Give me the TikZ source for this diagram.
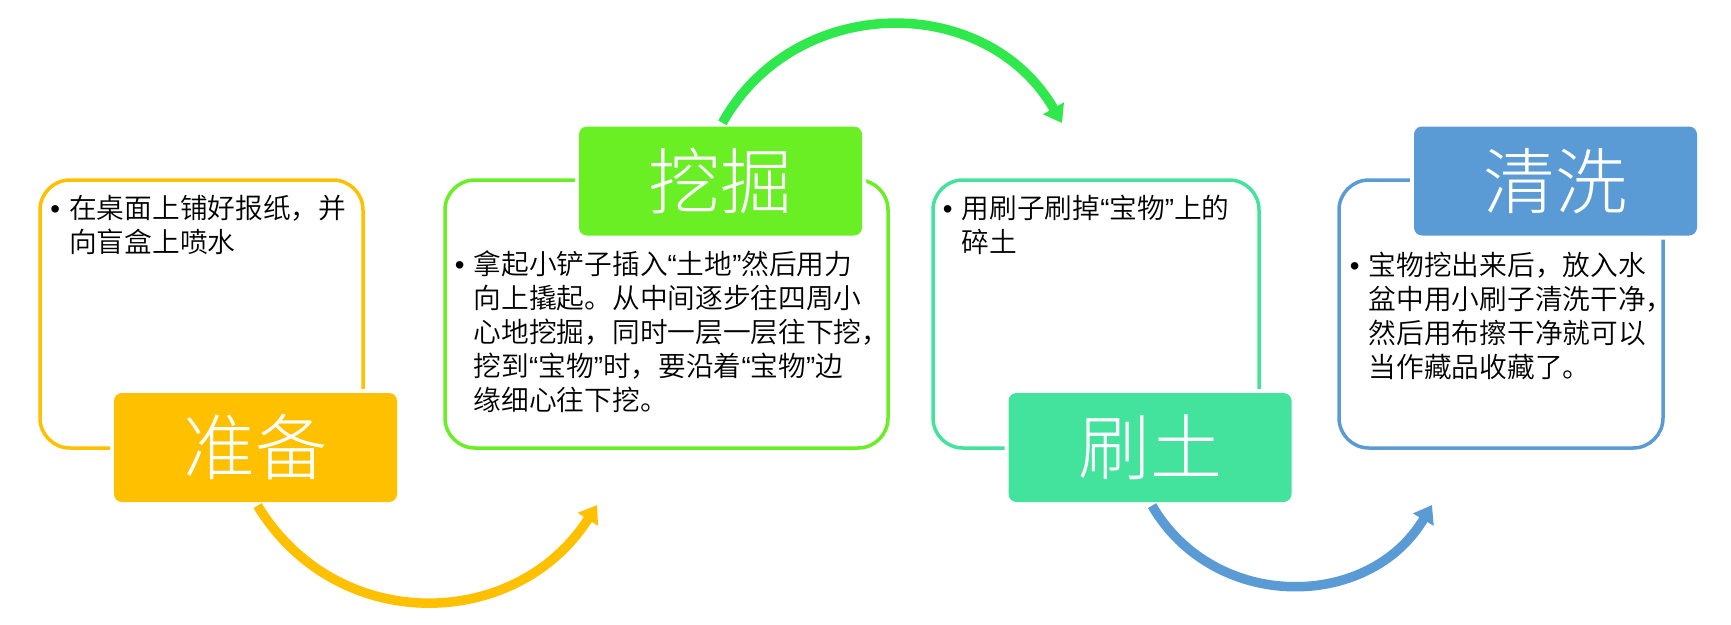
\documentclass[tikz,border=0pt]{standalone}
\usepackage{fontspec}
\setmainfont{Noto Sans CJK SC DemiLight}
\newfontfamily\qfont{Liberation Sans}
\newfontfamily\tfont{Noto Sans CJK SC Light}
\usetikzlibrary{arrows.meta}
\definecolor{cYel}{HTML}{FFC000}
\definecolor{cGrn}{HTML}{6AEE24}
\definecolor{cGrnA}{HTML}{2EE84C}
\definecolor{cTeal}{HTML}{43E29D}
\definecolor{cBlue}{HTML}{5B9BD5}
\newcommand{\myoq}{{\qfont “}}
\newcommand{\mycq}{{\qfont ”}}
\newcommand{\mybul}{\makebox[28pt]{\qfont •}}
\tikzset{
  outline/.style={draw=#1, line width=3.5pt, rounded corners=30pt, inner sep=0pt},
  titlebox/.style={fill=#1, rounded corners=8pt, minimum width=283pt, minimum height=109pt,
    inner sep=0pt, text=white, font=\tfont\fontsize{72}{72}\selectfont,
    preaction={draw=white, line width=8pt}},
  body/.style={anchor=base west, inner sep=0pt, font=\fontsize{27.7}{34}\selectfont},
  flow/.style={draw=#1, line width=9.5pt, shorten <=4pt, -{Triangle[length=17pt,width=23pt]}},
}
\begin{document}
\begin{tikzpicture}[x=1pt,y=-1pt]
\useasboundingbox[fill=white] (0,0) rectangle (1731,624);
% outline boxes
\node[outline=cYel, minimum width=323pt, minimum height=268pt] (b1) at (201.5,314) {};
\node[outline=cGrn, minimum width=443pt, minimum height=268pt] (b2) at (666.5,314) {};
\node[outline=cTeal, minimum width=326pt, minimum height=268pt] (b3) at (1096,314) {};
\node[outline=cBlue, minimum width=324pt, minimum height=268pt] (b4) at (1501,314) {};
% body texts
\node[body] (x1) at (41,218) {\mybul\parbox[t]{330pt}{在桌面上铺好报纸，并\\向盲盒上喷水}};
\node[body] (x2) at (445.6,274) {\mybul\parbox[t]{430pt}{拿起小铲子插入\myoq 土地\mycq 然后用力\\向上撬起。从中间逐步往四周小\\心地挖掘，同时一层一层往下挖，\\挖到\myoq 宝物\mycq 时，要沿着\myoq 宝物\mycq 边\\缘细心往下挖。}};
\node[body] (x3) at (933.6,218) {\mybul\parbox[t]{330pt}{用刷子刷掉\myoq 宝物\mycq 上的\\碎土}};
\node[body] (x4) at (1340.6,275.5) {\mybul\parbox[t]{330pt}{宝物挖出来后，放入水\\盆中用小刷子清洗干净，\\然后用布擦干净就可以\\当作藏品收藏了。}};
% title boxes
\node[titlebox=cYel] (t1) at (255.5,447.5) {准备};
\node[titlebox=cGrn] (t2) at (720.5,181) {挖掘};
\node[titlebox=cTeal] (t3) at (1150,447.5) {刷土};
\node[titlebox=cBlue] (t4) at (1555.5,181) {清洗};
% arrows
\coordinate (e1) at (597,505);
\coordinate (e2) at (1062,123);
\coordinate (e3) at (1432,505);
\draw[flow=cYel] (t1.south) .. controls (336,635) and (516,632) .. (e1);
\draw[flow=cGrnA] (t2.north) .. controls (795,-7) and (986,-8.5) .. (e2);
\draw[flow=cBlue] (t3.south) .. controls (1214,612) and (1369,611) .. (e3);
\end{tikzpicture}
\end{document}
